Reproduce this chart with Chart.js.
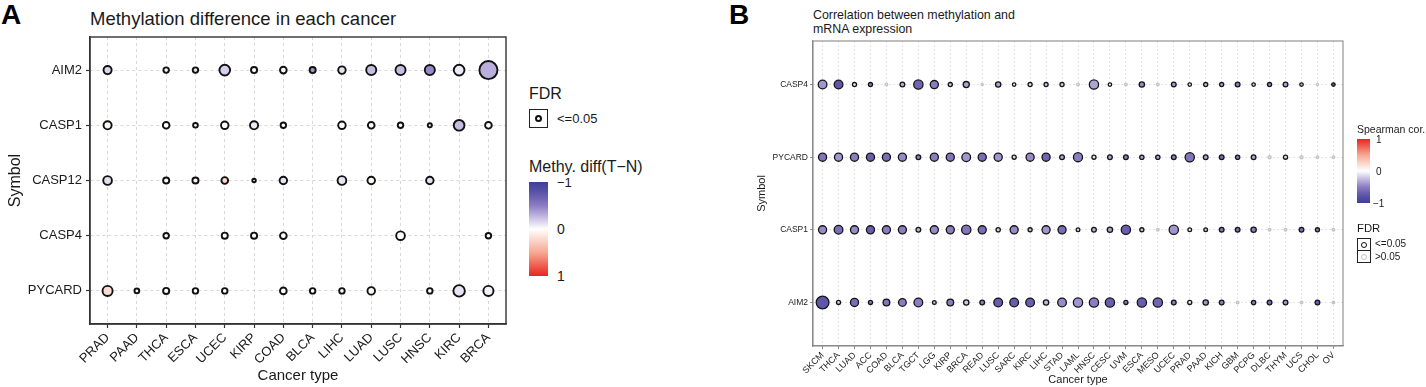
<!DOCTYPE html>
<html>
<head>
<meta charset="utf-8">
<script src="https://cdn.jsdelivr.net/npm/chart.js@4.4.1/dist/chart.umd.min.js"></script>
<style>
  body { margin: 0; width: 1426px; height: 387px; position: relative; overflow: hidden; background: #fff;
         font-family: 'Liberation Sans', Arial, sans-serif; color: #1a1a1a; }
  .abs { position: absolute; white-space: nowrap; }
  .tag { font-weight: bold; font-size: 28px; line-height: 30px; color: #000; }
  .box { position: absolute; border: 1px solid #222; box-sizing: border-box; }
  .dot { position: absolute; border-radius: 50%; box-sizing: border-box; }
</style>
</head>
<body>

<div class="abs tag" style="left:1px;top:0">A</div>
<div class="abs tag" style="left:729px;top:0">B</div>

<div class="abs" style="left:90px;top:8px;font-size:18.5px;line-height:22px">Methylation difference in each cancer</div>
<div class="abs" style="left:813px;top:8px;font-size:12.4px;line-height:14px">Correlation between methylation and<br>mRNA expression</div>

<div class="abs" style="left:0;top:0;width:520px;height:387px"><canvas id="chartA" width="520" height="387"></canvas></div>
<div class="abs" style="left:720px;top:0;width:706px;height:387px"><canvas id="chartB" width="706" height="387"></canvas></div>

<!-- legend A -->
<div class="abs" style="left:529px;top:84px;font-size:16px;line-height:20px">FDR</div>
<div class="box" style="left:529px;top:109px;width:19px;height:19px">
  <div class="dot" style="left:5px;top:5px;width:7px;height:7px;border:2px solid #111"></div>
</div>
<div class="abs" style="left:557px;top:111px;font-size:13px;line-height:16px">&lt;=0.05</div>
<div class="abs" style="left:529px;top:157px;font-size:16px;line-height:20px">Methy. diff(T&minus;N)</div>
<div class="abs" id="barA" style="left:529px;top:182px;width:19px;height:94px"></div>
<div class="abs" style="left:557px;top:175px;font-size:13px;line-height:16px">&minus;1</div>
<div class="abs" style="left:557px;top:221px;font-size:14px;line-height:16px">0</div>
<div class="abs" style="left:557px;top:268px;font-size:14px;line-height:16px">1</div>

<!-- legend B -->
<div class="abs" style="left:1357px;top:122px;font-size:10.5px;line-height:14px">Spearman cor.</div>
<div class="abs" id="barB" style="left:1357px;top:139px;width:13px;height:64px"></div>
<div class="abs" style="left:1376px;top:134px;font-size:10px;line-height:12px">1</div>
<div class="abs" style="left:1376px;top:166px;font-size:10px;line-height:12px">0</div>
<div class="abs" style="left:1373px;top:198px;font-size:10px;line-height:12px">&minus;1</div>
<div class="abs" style="left:1357px;top:221px;font-size:11.3px;line-height:14px">FDR</div>
<div class="box" style="left:1357px;top:238px;width:14px;height:13px">
  <div class="dot" style="left:3px;top:2.5px;width:6px;height:6px;border:1.4px solid #111"></div>
</div>
<div class="box" style="left:1357px;top:250px;width:14px;height:13px">
  <div class="dot" style="left:3px;top:2.5px;width:6px;height:6px;border:1.4px solid #c4c4c4"></div>
</div>
<div class="abs" style="left:1375px;top:238px;font-size:10px;line-height:12px">&lt;=0.05</div>
<div class="abs" style="left:1375px;top:251px;font-size:10px;line-height:12px">&gt;0.05</div>

<script>
// ---- Panel A: methylation difference (tumour - normal) ----
const cancersA = ['PRAD', 'PAAD', 'THCA', 'ESCA', 'UCEC', 'KIRP', 'COAD', 'BLCA', 'LIHC', 'LUAD', 'LUSC', 'HNSC', 'KIRC', 'BRCA'];
const genesA = ['AIM2', 'CASP1', 'CASP12', 'CASP4', 'PYCARD'];

const aim2DiffA   = [-0.15, null, -0.03, -0.12, -0.18, -0.03, -0.03, -0.4, -0.12, -0.25, -0.25, -0.45, -0.08, -0.3];
const casp1DiffA  = [0.06, null, 0, 0, 0, -0.08, 0, null, 0, 0, 0, 0, -0.25, 0];
const casp12DiffA = [-0.12, null, 0, 0.06, 0.22, 0, -0.1, null, -0.1, 0.05, null, -0.12, null, null];
const casp4DiffA  = [null, null, 0, null, 0, 0, 0, null, null, null, 0, null, null, 0];
const pycardDiffA = [0.2, 0, 0, 0, 0, null, 0, 0, 0, 0.05, null, 0, -0.1, -0.05];

// dot size (ggplot size scale as drawn)
const aim2SizeA   = [5, null, 3.7, 3.7, 6.3, 4, 4.3, 4, 4.7, 6, 6, 6, 6.3, 10];
const casp1SizeA  = [5, null, 4.3, 3.3, 4.7, 5, 3.7, null, 4.7, 4.3, 3.7, 3, 6.3, 4.3];
const casp12SizeA = [5.3, null, 4, 4, 4.3, 2.7, 4.7, null, 5.3, 4.7, null, 4.7, null, null];
const casp4SizeA  = [null, null, 3.7, null, 4, 4, 4.3, null, null, null, 5.3, null, null, 3.7];
const pycardSizeA = [6, 3.3, 4, 3.7, 3.7, null, 4.3, 3.7, 3.7, 4.7, null, 3.7, 6.7, 6];

// ---- Panel B: correlation between methylation and mRNA ----
const cancersB = ['SKCM', 'THCA', 'LUAD', 'ACC', 'COAD', 'BLCA', 'TGCT', 'LGG', 'KIRP', 'BRCA', 'READ', 'LUSC', 'SARC',
  'KIRC', 'LIHC', 'STAD', 'LAML', 'HNSC', 'CESC', 'UVM', 'ESCA', 'MESO', 'UCEC', 'PRAD', 'PAAD', 'KICH', 'GBM', 'PCPG',
  'DLBC', 'THYM', 'UCS', 'CHOL', 'OV'];
const genesB = ['CASP4', 'PYCARD', 'CASP1', 'AIM2'];

const casp4CorB  = [-0.4, -0.75, -0.1, -0.5, -0.1, -0.3, -0.65, -0.5, -0.2, -0.35, -0.1, -0.35, -0.05, -0.1, -0.2, -0.15, -0.1,
  -0.35, -0.05, -0.1, -0.45, -0.1, -0.4, -0.05, -0.25, -0.35, -0.5, -0.15, -0.45, -0.35, -0.25, -0.1, -0.75];
const pycardCorB = [-0.55, -0.4, -0.5, -0.7, -0.6, -0.45, -0.5, -0.5, -0.55, -0.4, -0.6, -0.4, -0.15, -0.45, -0.65, -0.35, -0.5,
  -0.1, -0.35, -0.5, -0.35, -0.35, -0.5, -0.55, -0.35, -0.6, -0.5, -0.35, -0.3, -0.1, -0.3, -0.2, -0.2];
const casp1CorB  = [-0.45, -0.6, -0.45, -0.7, -0.5, -0.5, -0.3, -0.45, -0.5, -0.55, -0.6, -0.2, -0.45, -0.25, -0.4, -0.6, -0.2,
  -0.3, -0.35, -0.7, -0.25, -0.2, -0.4, -0.1, -0.25, -0.55, -0.6, -0.5, -0.2, -0.2, -0.6, -0.5, -0.2];
const aim2CorB   = [-0.75, -0.2, -0.6, -0.5, -0.55, -0.5, -0.5, -0.25, -0.5, -0.2, -0.5, -0.7, -0.7, -0.7, -0.25, -0.45, -0.4,
  -0.5, -0.7, -0.5, -0.7, -0.65, -0.5, -0.1, -0.4, -0.5, -0.2, -0.5, -0.6, -0.4, -0.2, -0.7, -0.5];

const casp4SizeB  = [5, 5, 2.7, 2.7, 2, 3, 5.3, 4.7, 2.7, 3.7, 1.8, 3.3, 2.4, 2.7, 2.7, 2.7, 2, 5.3, 2.4, 2, 3.3, 2, 3, 2.4,
  2.7, 2.7, 3, 2.4, 2.7, 3, 2.4, 1.8, 2.4];
const pycardSizeB = [4.7, 4.7, 4.7, 4.7, 4.7, 4.7, 3, 4.7, 4.7, 5, 4.7, 4.7, 2.7, 4.7, 4.7, 3, 5.2, 2.7, 3, 3, 2.8, 2.8, 3, 5.3,
  3, 3, 2.8, 3, 2.2, 2.7, 2.2, 2, 2];
const casp1SizeB  = [4.7, 5, 4.7, 4.7, 4.7, 4.7, 3, 4.7, 4.7, 5.3, 4.7, 2.8, 4.7, 2.7, 4.7, 4.7, 2.5, 3, 3.3, 5.3, 2.7, 2, 5.3,
  2.5, 2.5, 3, 3, 3.3, 2, 2, 3, 2.7, 2];
const aim2SizeB   = [7, 2.7, 4.7, 2.7, 4, 4.5, 5, 2.5, 4, 3.3, 3, 5, 5, 5, 3.3, 5, 5.3, 5.3, 5.3, 2.7, 5.3, 5.3, 3, 2.7, 3.3,
  3, 2, 2.8, 3, 3, 2, 3, 2];

const casp4FdrB  = [0.01, 0.01, 0.01, 0.01, 0.3, 0.01, 0.01, 0.01, 0.01, 0.01, 0.3, 0.01, 0.01, 0.01, 0.01, 0.01, 0.3,
  0.01, 0.01, 0.3, 0.01, 0.3, 0.01, 0.01, 0.01, 0.01, 0.01, 0.01, 0.01, 0.01, 0.01, 0.3, 0.01];
const pycardFdrB = [0.01, 0.01, 0.01, 0.01, 0.01, 0.01, 0.01, 0.01, 0.01, 0.01, 0.01, 0.01, 0.01, 0.01, 0.01, 0.01, 0.01,
  0.01, 0.01, 0.01, 0.01, 0.01, 0.01, 0.01, 0.01, 0.01, 0.01, 0.01, 0.3, 0.01, 0.3, 0.3, 0.3];
const casp1FdrB  = [0.01, 0.01, 0.01, 0.01, 0.01, 0.01, 0.01, 0.01, 0.01, 0.01, 0.01, 0.01, 0.01, 0.01, 0.01, 0.01, 0.01,
  0.01, 0.01, 0.01, 0.01, 0.3, 0.01, 0.01, 0.01, 0.01, 0.01, 0.01, 0.3, 0.3, 0.01, 0.01, 0.3];
const aim2FdrB   = [0.01, 0.01, 0.01, 0.01, 0.01, 0.01, 0.01, 0.01, 0.01, 0.01, 0.01, 0.01, 0.01, 0.01, 0.01, 0.01, 0.01,
  0.01, 0.01, 0.01, 0.01, 0.01, 0.01, 0.01, 0.01, 0.01, 0.3, 0.01, 0.01, 0.01, 0.3, 0.01, 0.3];

// colour scale: -1 blue/purple, 0 white, 1 red
const colourStops = [
  [-1, [62, 62, 152]],
  [-0.75, [94, 86, 170]],
  [-0.5, [140, 124, 194]],
  [-0.25, [198, 187, 226]],
  [0, [255, 255, 255]],
  [0.5, [246, 168, 146]],
  [1, [234, 36, 30]]
];

function valueColour(v, alpha) {
  v = Math.max(-1, Math.min(1, v));
  let i = 0;
  while (i < colourStops.length - 2 && v > colourStops[i + 1][0]) i++;
  const [v0, c0] = colourStops[i];
  const [v1, c1] = colourStops[i + 1];
  const t = (v - v0) / (v1 - v0);
  const c = c0.map((x, k) => Math.round(x + (c1[k] - x) * t));
  return `rgba(${c[0]},${c[1]},${c[2]},${alpha === undefined ? 1 : alpha})`;
}

function gradientCss(fromVal, toVal) {
  const parts = [];
  for (let k = 0; k <= 20; k++) {
    const v = fromVal + (toVal - fromVal) * k / 20;
    parts.push(`${valueColour(v)} ${k * 5}%`);
  }
  return `linear-gradient(to bottom, ${parts.join(', ')})`;
}
document.getElementById('barA').style.background = gradientCss(-1, 1);
document.getElementById('barB').style.background = gradientCss(1, -1);

// bubble points from the row arrays
function buildPoints(valueRows, sizeRows, fdrRows, borderWidth) {
  const pts = [];
  valueRows.forEach((row, gi) => {
    row.forEach((v, ci) => {
      if (v === null) return;
      pts.push({
        x: ci,
        y: gi,
        r: Math.max(sizeRows[gi][ci] - borderWidth / 2, 1),
        v: v,
        fdr: fdrRows ? fdrRows[gi][ci] : 0
      });
    });
  });
  return pts;
}

// full box around the plotting panel (ggplot theme_bw style)
const panelBox = {
  id: 'panelBox',
  afterDraw(chart, args, opts) {
    const a = chart.chartArea;
    const ctx = chart.ctx;
    ctx.save();
    ctx.strokeStyle = opts.color;
    ctx.lineWidth = opts.width;
    ctx.strokeRect(a.left, a.top, a.right - a.left, a.bottom - a.top);
    ctx.restore();
  }
};

Chart.defaults.font.family = "'Liberation Sans', Arial, sans-serif";
Chart.defaults.color = '#1a1a1a';

function categoryAxis(labels, o) {
  return {
    type: 'linear',
    position: o.position,
    reverse: !!o.reverse,
    min: -0.6,
    max: labels.length - 1 + 0.6,
    afterBuildTicks: s => { s.ticks = labels.map((_, i) => ({ value: i })); },
    afterFit: o.afterFit,
    grid: { color: o.gridColor, lineWidth: o.gridWidth, tickColor: o.axisColor, tickLength: o.tickLength,
            tickWidth: o.tickWidth, tickBorderDash: [] },
    border: { color: o.axisColor, width: o.axisWidth, dash: o.dash },
    ticks: { autoSkip: false, maxRotation: o.rotation, minRotation: o.rotation, padding: o.tickPadding,
             font: { size: o.fontSize }, color: '#1a1a1a', callback: v => labels[v] },
    title: { display: true, text: o.title, font: { size: o.titleSize }, color: '#1a1a1a', padding: o.titlePadding }
  };
}

function initPanelA() {
  const bw = 1.9;
  const points = buildPoints(
    [aim2DiffA, casp1DiffA, casp12DiffA, casp4DiffA, pycardDiffA],
    [aim2SizeA, casp1SizeA, casp12SizeA, casp4SizeA, pycardSizeA],
    null, bw);

  new Chart(document.getElementById('chartA'), {
    type: 'bubble',
    data: {
      datasets: [{
        data: points,
        backgroundColor: c => valueColour(c.raw.v),
        borderColor: '#111',
        borderWidth: bw
      }]
    },
    options: {
      responsive: false,
      animation: false,
      events: [],
      layout: { padding: { top: 37, right: 14, bottom: 0, left: 0 } },
      plugins: { legend: { display: false }, tooltip: { enabled: false }, panelBox: { color: '#333', width: 1.4 } },
      scales: {
        x: categoryAxis(cancersA, {
          position: 'bottom', afterFit: s => { s.height = 63; },
          gridColor: '#cfcfcf', gridWidth: 0.8, axisColor: '#333', axisWidth: 1.4, dash: [3, 3],
          tickLength: 4, tickWidth: 1.2, rotation: 45, tickPadding: 2, fontSize: 13,
          title: 'Cancer type', titleSize: 15, titlePadding: { top: 0, bottom: 2 }
        }),
        y: categoryAxis(genesA, {
          position: 'left', reverse: true, afterFit: s => { s.width = 90; },
          gridColor: '#cfcfcf', gridWidth: 0.8, axisColor: '#333', axisWidth: 1.4, dash: [3, 3],
          tickLength: 4, tickWidth: 1.2, rotation: 0, tickPadding: 4, fontSize: 13,
          title: 'Symbol', titleSize: 16, titlePadding: { top: 6, bottom: 0 }
        })
      }
    },
    plugins: [panelBox]
  });
}

function initPanelB() {
  const bw = 1.3;
  const points = buildPoints(
    [casp4CorB, pycardCorB, casp1CorB, aim2CorB],
    [casp4SizeB, pycardSizeB, casp1SizeB, aim2SizeB],
    [casp4FdrB, pycardFdrB, casp1FdrB, aim2FdrB], bw);

  new Chart(document.getElementById('chartB'), {
    type: 'bubble',
    data: {
      datasets: [{
        data: points,
        backgroundColor: c => c.raw.fdr <= 0.05 ? valueColour(c.raw.v) : valueColour(c.raw.v, 0.35),
        borderColor: c => c.raw.fdr <= 0.05 ? '#151515' : '#c4c4c4',
        borderWidth: bw
      }]
    },
    options: {
      responsive: false,
      animation: false,
      events: [],
      layout: { padding: { top: 41, right: 83, bottom: 0, left: 0 } },
      plugins: { legend: { display: false }, tooltip: { enabled: false }, panelBox: { color: '#8a8a8a', width: 1.1 } },
      scales: {
        x: categoryAxis(cancersB, {
          position: 'bottom', afterFit: s => { s.height = 41; },
          gridColor: '#dedede', gridWidth: 0.8, axisColor: '#8a8a8a', axisWidth: 1.1, dash: [2, 2],
          tickLength: 3, tickWidth: 1, rotation: 45, tickPadding: 1, fontSize: 9,
          title: 'Cancer type', titleSize: 11, titlePadding: { top: 0, bottom: 0 }
        }),
        y: categoryAxis(genesB, {
          position: 'left', reverse: true, afterFit: s => { s.width = 93; },
          gridColor: '#dedede', gridWidth: 0.8, axisColor: '#8a8a8a', axisWidth: 1.1, dash: [2, 2],
          tickLength: 3, tickWidth: 1, rotation: 0, tickPadding: 2, fontSize: 8.5,
          title: 'Symbol', titleSize: 11, titlePadding: { top: 35, bottom: 0 }
        })
      }
    },
    plugins: [panelBox]
  });
}

initPanelA();
initPanelB();
</script>
</body>
</html>
